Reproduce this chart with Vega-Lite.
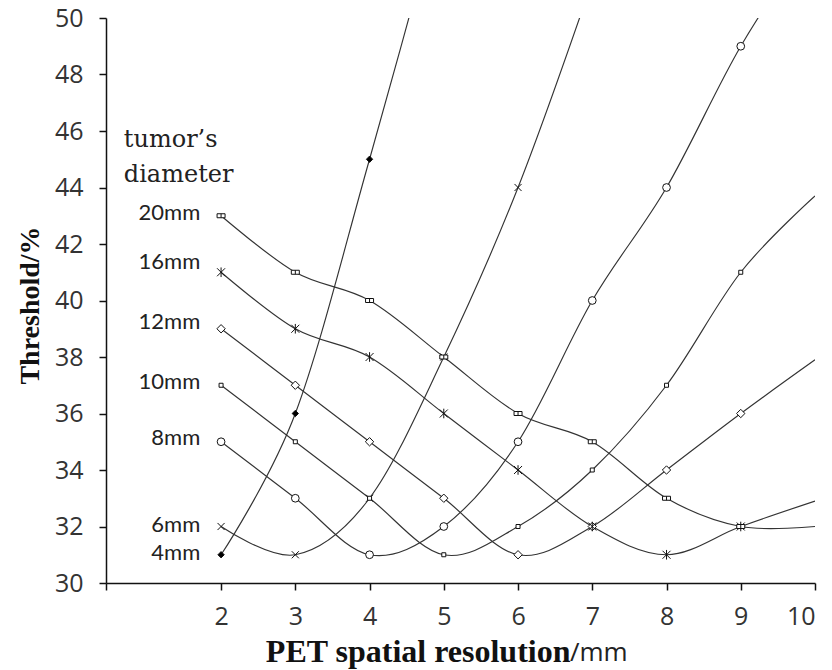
{
  "$schema": "https://vega.github.io/schema/vega-lite/v6.json",
  "width": 709,
  "height": 565,
  "autosize": {"type": "none"},
  "padding": {"left": 106, "top": 18, "right": 17, "bottom": 87},
  "background": "white",
  "config": {"view": {"stroke": null}, "axis": {"grid": false}},
  "datasets": {
    "curves": [
      {"d": "4mm", "x": 2, "y": 31}, {"d": "4mm", "x": 3, "y": 36}, {"d": "4mm", "x": 4, "y": 45}, {"d": "4mm", "x": 5, "y": 54.5},
      {"d": "6mm", "x": 2, "y": 32}, {"d": "6mm", "x": 3, "y": 31}, {"d": "6mm", "x": 4, "y": 33}, {"d": "6mm", "x": 5, "y": 38}, {"d": "6mm", "x": 6, "y": 44}, {"d": "6mm", "x": 7, "y": 51.3},
      {"d": "8mm", "x": 2, "y": 35}, {"d": "8mm", "x": 3, "y": 33}, {"d": "8mm", "x": 4, "y": 31}, {"d": "8mm", "x": 5, "y": 32}, {"d": "8mm", "x": 6, "y": 35}, {"d": "8mm", "x": 7, "y": 40}, {"d": "8mm", "x": 8, "y": 44}, {"d": "8mm", "x": 9, "y": 49}, {"d": "8mm", "x": 10, "y": 53},
      {"d": "10mm", "x": 2, "y": 37}, {"d": "10mm", "x": 3, "y": 35}, {"d": "10mm", "x": 4, "y": 33}, {"d": "10mm", "x": 5, "y": 31}, {"d": "10mm", "x": 6, "y": 32}, {"d": "10mm", "x": 7, "y": 34}, {"d": "10mm", "x": 8, "y": 37}, {"d": "10mm", "x": 9, "y": 41}, {"d": "10mm", "x": 10, "y": 43.7},
      {"d": "12mm", "x": 2, "y": 39}, {"d": "12mm", "x": 3, "y": 37}, {"d": "12mm", "x": 4, "y": 35}, {"d": "12mm", "x": 5, "y": 33}, {"d": "12mm", "x": 6, "y": 31}, {"d": "12mm", "x": 7, "y": 32}, {"d": "12mm", "x": 8, "y": 34}, {"d": "12mm", "x": 9, "y": 36}, {"d": "12mm", "x": 10, "y": 37.9},
      {"d": "16mm", "x": 2, "y": 41}, {"d": "16mm", "x": 3, "y": 39}, {"d": "16mm", "x": 4, "y": 38}, {"d": "16mm", "x": 5, "y": 36}, {"d": "16mm", "x": 6, "y": 34}, {"d": "16mm", "x": 7, "y": 32}, {"d": "16mm", "x": 8, "y": 31}, {"d": "16mm", "x": 9, "y": 32}, {"d": "16mm", "x": 10, "y": 32.9},
      {"d": "20mm", "x": 2, "y": 43}, {"d": "20mm", "x": 3, "y": 41}, {"d": "20mm", "x": 4, "y": 40}, {"d": "20mm", "x": 5, "y": 38}, {"d": "20mm", "x": 6, "y": 36}, {"d": "20mm", "x": 7, "y": 35}, {"d": "20mm", "x": 8, "y": 33}, {"d": "20mm", "x": 9, "y": 32}, {"d": "20mm", "x": 10, "y": 32}
    ],
    "labels": [
      {"t": "20mm", "x": 1.72, "y": 43.1},
      {"t": "16mm", "x": 1.72, "y": 41.35},
      {"t": "12mm", "x": 1.72, "y": 39.25},
      {"t": "10mm", "x": 1.72, "y": 37.1},
      {"t": "8mm", "x": 1.72, "y": 35.15},
      {"t": "6mm", "x": 1.72, "y": 32.05},
      {"t": "4mm", "x": 1.72, "y": 31.05}
    ],
    "notes": [
      {"t": ["tumor’s", "diameter"], "x": 0.69, "y": 45.45}
    ],
    "unit": [
      {"t": "/mm", "x": 6.7, "y": 27.24}
    ]
  },
  "layer": [
    {
      "data": {"name": "curves"},
      "mark": {"type": "line", "interpolate": "cardinal", "clip": true, "stroke": "#333", "strokeWidth": 1.15},
      "encoding": {
        "x": {
          "field": "x", "type": "quantitative",
          "scale": {"domain": [0.45, 10], "nice": false, "zero": false},
          "axis": {
            "values": [0.45, 2, 3, 4, 5, 6, 7, 8, 9, 10],
            "format": "d",
            "labelExpr": "datum.value < 1 ? '' : datum.label",
            "title": "PET spatial resolution",
            "titleFont": "Liberation Serif", "titleFontWeight": "bold", "titleFontSize": 32, "titleColor": "#111",
            "titleAlign": "right", "titleBaseline": "alphabetic", "titleX": 464, "titleY": 78,
            "labelFont": "Open Sans", "labelFontSize": 25, "labelColor": "#333", "labelPadding": 14,
            "domainColor": "#111", "domainWidth": 1.5, "tickColor": "#111", "tickWidth": 1.5, "tickSize": 7
          }
        },
        "y": {
          "field": "y", "type": "quantitative",
          "scale": {"domain": [30, 50], "nice": false, "zero": false},
          "axis": {
            "values": [30, 32, 34, 36, 38, 40, 42, 44, 46, 48, 50],
            "format": "d",
            "title": "Threshold/%",
            "titleFont": "Liberation Serif", "titleFontWeight": "bold", "titleFontSize": 28, "titleColor": "#111",
            "titleAngle": -90, "titleAlign": "center", "titleBaseline": "middle", "titleX": -76, "titleY": 287,
            "labelFont": "Open Sans", "labelFontSize": 25, "labelColor": "#333", "labelPadding": 16,
            "domainColor": "#111", "domainWidth": 1.5, "tickColor": "#111", "tickWidth": 1.5, "tickSize": 7
          }
        },
        "detail": {"field": "d"}
      }
    },
    {
      "data": {"name": "curves"},
      "transform": [{"filter": "datum.x < 10 && datum.y <= 50"}],
      "mark": {"type": "point", "filled": true, "stroke": "#111", "strokeWidth": 1, "opacity": 1},
      "encoding": {
        "x": {"field": "x", "type": "quantitative"},
        "y": {"field": "y", "type": "quantitative"},
        "shape": {
          "field": "d", "type": "nominal", "legend": null,
          "scale": {
            "domain": ["4mm", "6mm", "8mm", "10mm", "12mm", "16mm", "20mm"],
            "range": ["diamond", "M-1,-1L1,1M-1,1L1,-1", "circle", "square", "diamond", "M-1,-1L1,1M-1,1L1,-1M0,-1.2L0,1.2", "M-1,-0.5H1V0.5H-1ZM0,-0.5V0.5"]
          }
        },
        "size": {
          "field": "d", "type": "nominal", "legend": null,
          "scale": {
            "type": "ordinal",
            "domain": ["4mm", "6mm", "8mm", "10mm", "12mm", "16mm", "20mm"],
            "range": [40, 50, 60, 16, 70, 64, 64]
          }
        },
        "fill": {
          "field": "d", "type": "nominal", "legend": null,
          "scale": {
            "domain": ["4mm", "6mm", "8mm", "10mm", "12mm", "16mm", "20mm"],
            "range": ["#000", "#fff", "#fff", "#fff", "#fff", "#fff", "#fff"]
          }
        }
      }
    },
    {
      "data": {"name": "labels"},
      "mark": {"type": "text", "align": "right", "baseline": "middle", "font": "Lato", "fontSize": 22, "color": "#222"},
      "encoding": {
        "x": {"field": "x", "type": "quantitative"},
        "y": {"field": "y", "type": "quantitative"},
        "text": {"field": "t"}
      }
    },
    {
      "data": {"name": "notes"},
      "mark": {"type": "text", "align": "left", "baseline": "alphabetic", "font": "DejaVu Serif", "fontSize": 24, "lineHeight": 35, "color": "#222"},
      "encoding": {
        "x": {"field": "x", "type": "quantitative"},
        "y": {"field": "y", "type": "quantitative"},
        "text": {"field": "t"}
      }
    },
    {
      "data": {"name": "unit"},
      "mark": {"type": "text", "align": "left", "baseline": "alphabetic", "font": "Open Sans", "fontSize": 26, "color": "#222"},
      "encoding": {
        "x": {"field": "x", "type": "quantitative"},
        "y": {"field": "y", "type": "quantitative"},
        "text": {"field": "t"}
      }
    }
  ]
}
